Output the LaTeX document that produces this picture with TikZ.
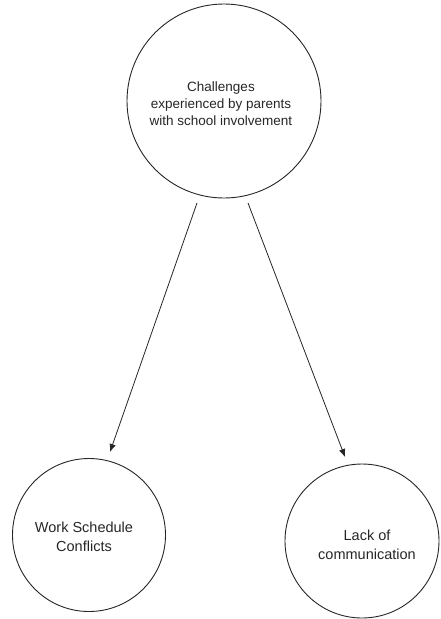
\documentclass[tikz,border=0pt]{standalone}
\usepackage{fontspec}
\setmainfont{Liberation Sans}
\usetikzlibrary{arrows.meta}
\begin{document}
\begin{tikzpicture}[x=1pt,y=-1pt,
  bubble/.style={draw=black!85, line width=0.9pt, circle, inner sep=0pt},
  lbl/.style={align=center, text=black!85, inner sep=0pt},
  conn/.style={draw=black!85, line width=0.8pt, -{Latex[length=8pt,width=6.5pt]}}]
\useasboundingbox (0,0) rectangle (440,619);
\node[bubble, minimum size=194pt] (top) at (224,101) {};
\node[bubble, minimum size=153pt] (left) at (89,535) {};
\node[bubble, minimum size=154pt] (right) at (362,541) {};
\node[lbl, font=\fontsize{13.5}{17}\selectfont] (toptext) at (221,104)
  {Challenges\\experienced by parents\\with school involvement};
\node[lbl, font=\fontsize{14.5}{19}\selectfont] (lefttext) at (84,537)
  {Work Schedule\\Conflicts};
\node[lbl, font=\fontsize{14.5}{19}\selectfont] (righttext) at (367,545)
  {Lack of\\communication};
\coordinate (s1) at (197,203);
\coordinate (e1) at (110,452);
\coordinate (s2) at (248,203);
\coordinate (e2) at (345,457);
\draw[conn] (s1) -- (e1);
\draw[conn] (s2) -- (e2);
\end{tikzpicture}
\end{document}
